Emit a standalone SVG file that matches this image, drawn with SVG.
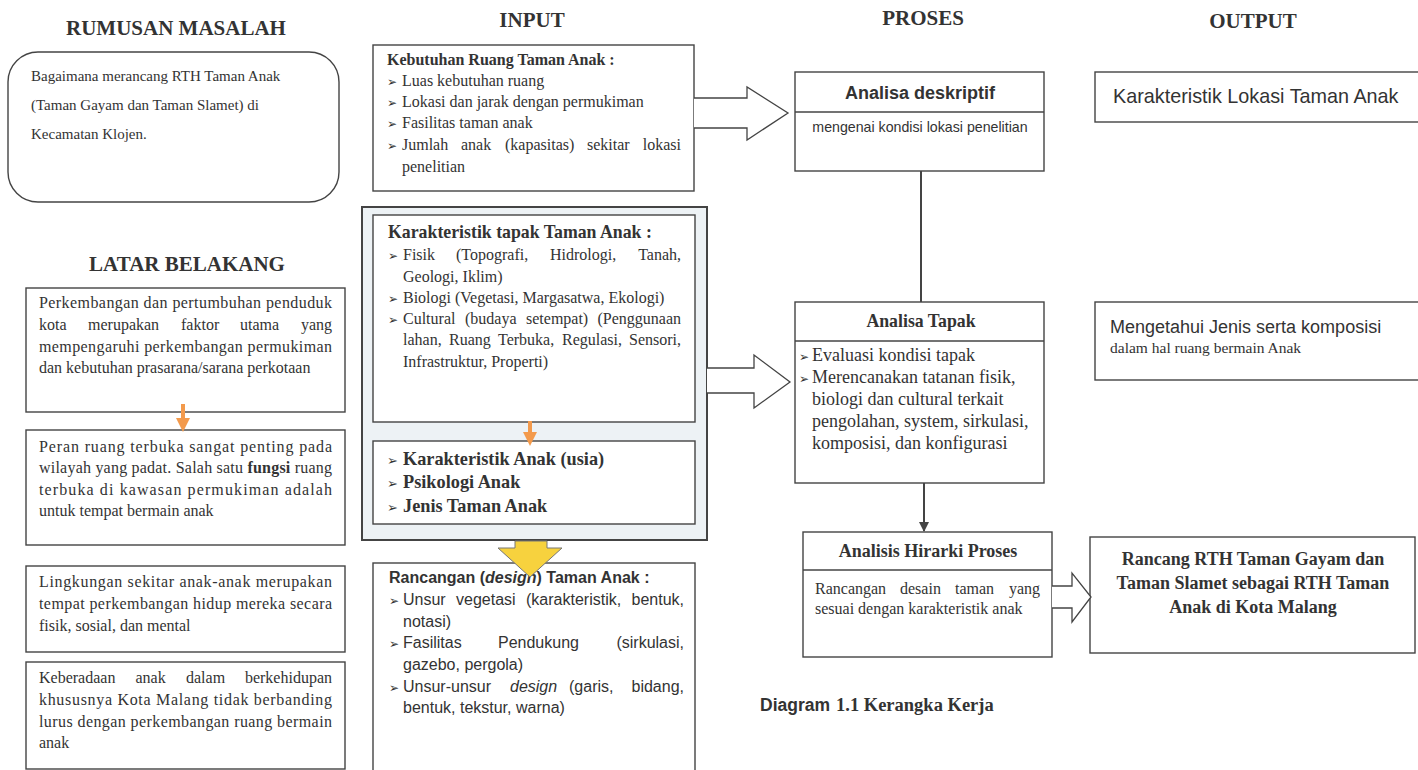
<svg xmlns="http://www.w3.org/2000/svg" width="1418" height="770" viewBox="0 0 1418 770">
<style>
.bg{fill:#ffffff}
.box{fill:#ffffff;stroke:#444;stroke-width:1.4}
.frame{fill:#edf2f5;stroke:#444;stroke-width:2}
.hd{font-family:"Liberation Serif",serif;font-weight:bold;font-size:21px;fill:#333}
.sr{font-family:"Liberation Serif",serif;font-size:16px;fill:#333}
.srb{font-family:"Liberation Serif",serif;font-size:16px;font-weight:bold;fill:#333}
.ss{font-family:"Liberation Sans",Arial,sans-serif;font-size:16px;fill:#333}
.ssb{font-family:"Liberation Sans",Arial,sans-serif;font-size:16px;font-weight:bold;fill:#333}
.bul{font-family:"DejaVu Sans",sans-serif;font-size:12px;fill:#333}
.hollow{fill:#ffffff;stroke:#444;stroke-width:1.3;stroke-linejoin:miter}
.conn{stroke:#444;stroke-width:2;fill:none}
.orange{fill:#f39a4c}
</style>
<defs>
<marker id="ah" viewBox="0 0 10 10" refX="9" refY="5" markerWidth="5" markerHeight="5" orient="auto">
<path d="M0,0 L10,5 L0,10 z" fill="#444"/>
</marker>
</defs>
<rect class="bg" x="0" y="0" width="1418" height="770"/>

<g id="headers">
<text class="hd" x="176" y="35" text-anchor="middle">RUMUSAN MASALAH</text>
<text class="hd" x="532" y="27" text-anchor="middle">INPUT</text>
<text class="hd" x="923" y="25" text-anchor="middle">PROSES</text>
<text class="hd" x="1253" y="28" text-anchor="middle">OUTPUT</text>
<text class="hd" x="187" y="271" text-anchor="middle">LATAR BELAKANG</text>
</g>

<g id="rumusan">
<rect class="box" x="8" y="52" width="331" height="150" rx="30" ry="30"/>
<text class="sr" x="31" y="81" style="font-size:15px">Bagaimana merancang RTH Taman Anak</text>
<text class="sr" x="31" y="110" style="font-size:15px">(Taman Gayam dan Taman Slamet) di</text>
<text class="sr" x="31" y="139" style="font-size:15px">Kecamatan Klojen.</text>
</g>

<g id="latar1">
<rect class="box" x="26" y="288" width="319" height="124"/>
<text class="sr" x="39" y="308" textLength="293" lengthAdjust="spacing">Perkembangan dan pertumbuhan penduduk</text>
<text class="sr" y="330"><tspan x="39">kota</tspan><tspan x="88">merupakan</tspan><tspan x="181">faktor</tspan><tspan x="240">utama</tspan></text>
<text class="sr" x="332" y="330" text-anchor="end">yang</text>
<text class="sr" x="39" y="352" textLength="293" lengthAdjust="spacing">mempengaruhi perkembangan permukiman</text>
<text class="sr" x="39" y="373">dan kebutuhan prasarana/sarana perkotaan</text>
</g>

<g id="latar2">
<rect class="box" x="26" y="430" width="319" height="115"/>
<text class="sr" x="39" y="452" textLength="293" lengthAdjust="spacing">Peran ruang terbuka sangat penting pada</text>
<text class="sr" x="39" y="473" textLength="293" lengthAdjust="spacing">wilayah yang padat. Salah satu <tspan font-weight="bold">fungsi</tspan> ruang</text>
<text class="sr" x="39" y="495" textLength="293" lengthAdjust="spacing">terbuka di kawasan permukiman adalah</text>
<text class="sr" x="39" y="516">untuk tempat bermain anak</text>
</g>

<g id="latar3">
<rect class="box" x="26" y="566" width="319" height="86"/>
<text class="sr" x="39" y="587" textLength="293" lengthAdjust="spacing">Lingkungan sekitar anak-anak merupakan</text>
<text class="sr" x="39" y="609" textLength="293" lengthAdjust="spacing">tempat perkembangan hidup mereka secara</text>
<text class="sr" x="39" y="631">fisik, sosial, dan mental</text>
</g>

<g id="latar4">
<rect class="box" x="26" y="662" width="319" height="107"/>
<text class="sr" y="683"><tspan x="39">Keberadaan</tspan><tspan x="135.5">anak</tspan><tspan x="186">dalam</tspan></text>
<text class="sr" x="332" y="683" text-anchor="end">berkehidupan</text>
<text class="sr" x="39" y="705" textLength="293" lengthAdjust="spacing">khususnya Kota Malang tidak berbanding</text>
<text class="sr" x="39" y="727" textLength="293" lengthAdjust="spacing">lurus dengan perkembangan ruang bermain</text>
<text class="sr" x="39" y="748">anak</text>
</g>

<g id="input-kebutuhan">
<rect class="box" x="373" y="45" width="321" height="146"/>
<text class="srb" x="387" y="65">Kebutuhan Ruang Taman Anak :</text>
<text class="bul" x="387" y="86">➢</text><text class="sr" x="402" y="86">Luas kebutuhan ruang</text>
<text class="bul" x="387" y="107">➢</text><text class="sr" x="402" y="107">Lokasi dan jarak dengan permukiman</text>
<text class="bul" x="387" y="128">➢</text><text class="sr" x="402" y="128">Fasilitas taman anak</text>
<text class="bul" x="387" y="150">➢</text>
<text class="sr" y="150"><tspan x="402">Jumlah</tspan><tspan x="461">anak</tspan><tspan x="505">(kapasitas)</tspan><tspan x="587">sekitar</tspan></text>
<text class="sr" x="681" y="150" text-anchor="end">lokasi</text>
<text class="sr" x="402" y="172">penelitian</text>
</g>

<g id="input-karakteristik">
<rect class="frame" x="362" y="207" width="345" height="333"/>
<rect class="box" x="373" y="215" width="322" height="207"/>
<text class="srb" x="388" y="238" style="font-size:17.8px">Karakteristik tapak Taman Anak :</text>
<text class="bul" x="388" y="260">➢</text>
<text class="sr" y="260"><tspan x="403">Fisik</tspan><tspan x="456">(Topografi,</tspan><tspan x="550">Hidrologi,</tspan></text>
<text class="sr" x="681" y="260" text-anchor="end">Tanah,</text>
<text class="sr" x="403" y="282">Geologi, Iklim)</text>
<text class="bul" x="388" y="303">➢</text><text class="sr" x="403" y="303">Biologi (Vegetasi, Margasatwa, Ekologi)</text>
<text class="bul" x="388" y="324">➢</text>
<text class="sr" y="324"><tspan x="403">Cultural</tspan><tspan x="465">(budaya</tspan><tspan x="526">setempat)</tspan></text>
<text class="sr" x="681" y="324" text-anchor="end">(Penggunaan</text>
<text class="sr" y="345"><tspan x="403">lahan,</tspan><tspan x="449">Ruang</tspan><tspan x="498">Terbuka,</tspan><tspan x="562">Regulasi,</tspan></text>
<text class="sr" x="681" y="345" text-anchor="end">Sensori,</text>
<text class="sr" x="403" y="367">Infrastruktur, Properti)</text>
<rect class="box" x="373" y="441" width="322" height="83"/>
<text class="bul" x="387" y="465" style="font-size:13px">➢</text><text class="srb" x="403" y="465" style="font-size:18.3px">Karakteristik Anak (usia)</text>
<text class="bul" x="387" y="488" style="font-size:13px">➢</text><text class="srb" x="403" y="488" style="font-size:18.3px">Psikologi Anak</text>
<text class="bul" x="387" y="512" style="font-size:13px">➢</text><text class="srb" x="403" y="512" style="font-size:18.3px">Jenis Taman Anak</text>
</g>

<g id="input-rancangan">
<rect class="box" x="373" y="563" width="322" height="215"/>
<text class="ssb" x="389" y="583">Rancangan (<tspan font-style="italic">design</tspan>) Taman Anak :</text>
<text class="bul" x="389" y="605">➢</text>
<text class="ss" y="605"><tspan x="403">Unsur</tspan><tspan x="456">vegetasi</tspan><tspan x="526">(karakteristik,</tspan></text>
<text class="ss" x="684" y="605" text-anchor="end">bentuk,</text>
<text class="ss" x="403" y="627">notasi)</text>
<text class="bul" x="389" y="648">➢</text>
<text class="ss" y="648"><tspan x="403">Fasilitas</tspan><tspan x="498">Pendukung</tspan></text>
<text class="ss" x="684" y="648" text-anchor="end">(sirkulasi,</text>
<text class="ss" x="403" y="670">gazebo, pergola)</text>
<text class="bul" x="389" y="692">➢</text>
<text class="ss" y="692"><tspan x="403">Unsur-unsur</tspan><tspan x="510" font-style="italic">design</tspan><tspan x="569">(garis,</tspan></text>
<text class="ss" x="684" y="692" text-anchor="end">bidang,</text>
<text class="ss" x="403" y="713">bentuk, tekstur, warna)</text>
</g>

<g id="analisa-deskriptif">
<rect class="box" x="795" y="72" width="249" height="99"/>
<line x1="795" y1="112" x2="1044" y2="112" stroke="#444" stroke-width="1.4"/>
<text class="ssb" x="920" y="99" text-anchor="middle" style="font-size:18px">Analisa deskriptif</text>
<text class="ss" x="920" y="132" text-anchor="middle" style="font-size:14.2px">mengenai kondisi lokasi penelitian</text>
</g>

<g id="analisa-tapak">
<rect class="box" x="795" y="302" width="249" height="181"/>
<line x1="795" y1="341" x2="1044" y2="341" stroke="#444" stroke-width="1.4"/>
<text class="srb" x="921" y="327" text-anchor="middle" style="font-size:17.8px">Analisa Tapak</text>
<text class="bul" x="799" y="361">➢</text><text class="sr" x="812" y="361" style="font-size:18px">Evaluasi kondisi tapak</text>
<text class="bul" x="799" y="383">➢</text><text class="sr" x="812" y="383" style="font-size:18px">Merencanakan tatanan fisik,</text>
<text class="sr" x="812" y="405" style="font-size:18px">biologi dan cultural terkait</text>
<text class="sr" x="812" y="427" style="font-size:18px">pengolahan, system, sirkulasi,</text>
<text class="sr" x="812" y="449" style="font-size:18px">komposisi, dan konfigurasi</text>
</g>

<g id="analisis-hirarki">
<rect class="box" x="803" y="532" width="249" height="125"/>
<line x1="803" y1="570" x2="1052" y2="570" stroke="#444" stroke-width="1.4"/>
<text class="srb" x="928" y="557" text-anchor="middle" style="font-size:18px">Analisis Hirarki Proses</text>
<text class="sr" y="594"><tspan x="815">Rancangan</tspan><tspan x="900">desain</tspan><tspan x="955">taman</tspan></text>
<text class="sr" x="1040" y="594" text-anchor="end">yang</text>
<text class="sr" x="815" y="614">sesuai dengan karakteristik anak</text>
</g>

<g id="output-lokasi">
<rect class="box" x="1095" y="72" width="330" height="50"/>
<text class="ss" x="1113" y="103" style="font-size:19.8px">Karakteristik Lokasi Taman Anak</text>
</g>

<g id="output-jenis">
<rect class="box" x="1095" y="302" width="330" height="78"/>
<text class="ss" x="1110" y="333" style="font-size:18px">Mengetahui Jenis serta komposisi</text>
<text class="sr" x="1110" y="353" style="font-size:15.5px">dalam hal ruang bermain Anak</text>
</g>

<g id="output-rancang">
<rect class="box" x="1090" y="537" width="325" height="116"/>
<text class="srb" x="1253" y="565" text-anchor="middle" style="font-size:18px">Rancang RTH Taman Gayam dan</text>
<text class="srb" x="1253" y="589" text-anchor="middle" style="font-size:18px">Taman Slamet sebagai RTH Taman</text>
<text class="srb" x="1253" y="613" text-anchor="middle" style="font-size:18px">Anak di Kota Malang</text>
</g>

<g id="caption">
<text class="ssb" x="760" y="711" style="font-size:17.5px">Diagram</text>
<text class="srb" x="836" y="711" style="font-size:18.5px">1.1 Kerangka Kerja</text>
</g>

<g id="connectors">
<path class="hollow" d="M694,98 L747,98 L747,87 L788,113 L747,140 L747,128 L694,128"/>
<path class="hollow" d="M707,368 L754,368 L754,355 L790,382 L754,408 L754,393 L707,393"/>
<path class="hollow" d="M1052,586 L1072,586 L1072,573 L1091,597 L1072,622 L1072,608 L1052,608"/>
<line class="conn" x1="921" y1="171" x2="921" y2="302"/>
<line class="conn" x1="924" y1="483" x2="924" y2="531" marker-end="url(#ah)"/>
<polygon points="515,541 547,541 547,548 562,548 530,577 498,548 515,548" fill="#f7d23e" stroke="#777" stroke-width="1"/>
<rect class="orange" x="181" y="404" width="4" height="16"/>
<polygon class="orange" points="176,418 190,418 183,432"/>
<rect class="orange" x="528" y="421" width="4" height="13"/>
<polygon class="orange" points="523,432 537,432 530,446"/>
</g>
</svg>
